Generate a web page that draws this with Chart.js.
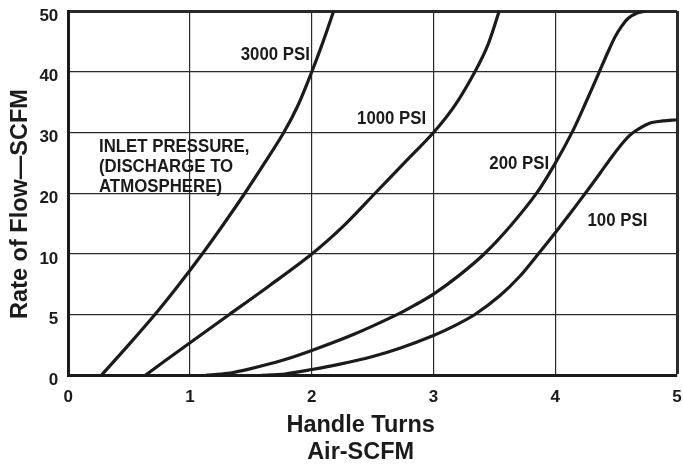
<!DOCTYPE html>
<html>
<head>
<meta charset="utf-8">
<script src="https://cdn.jsdelivr.net/npm/chart.js@4.4.1/dist/chart.umd.min.js"></script>
<style>
html,body{margin:0;padding:0;background:#fff;}
#wrap{position:relative;width:683px;height:465px;}
</style>
</head>
<body>
<div id="wrap"><canvas id="c"></canvas></div>
<script>
// ---- data ----
const yTickValues = [0, 5, 10, 20, 30, 40, 50];
const yTickLabels = ['0', '5', '10', '20', '30', '40', '50'];
const xTickLabels = ['0', '1', '2', '3', '4', '5'];

const turns3000 = [0.27, 0.49, 0.71, 0.905, 1.10, 1.275, 1.45, 1.61, 1.77, 1.885, 2.0, 2.09, 2.18];
const flow3000  = [0,    2.46, 5,    7.43,  10,   14.9,  20,   24.9, 30,   34.4,  40,  44.8, 50];

const turns1000 = [0.63, 1.0, 1.32, 1.66, 2.0, 2.27, 2.52, 2.76, 3.0, 3.18, 3.34, 3.45, 3.54];
const flow1000  = [0,    2.7, 5,    7.45, 10,  14.8, 20,   25,   30,  34.6, 40,   44.6, 50];

const turns200 = [1.12, 1.31, 1.5, 1.746, 2.0, 2.346, 2.7, 2.846, 3.0, 3.208, 3.42, 3.635, 3.85, 3.996, 4.14, 4.25, 4.36, 4.423, 4.49, 4.546, 4.6, 4.678, 4.75];
const flow200  = [0,    0.17, 0.57, 1.21, 2.06, 3.39, 5.01, 5.79, 6.7, 8.22, 10.08, 14.7, 20.1, 24.8, 30.1, 34.9, 39.9, 42.8, 45.7, 47.5, 48.8, 49.7, 50];

const turns100 = [1.57, 1.779, 2.0, 2.231, 2.5, 2.723, 3.0, 3.175, 3.34, 3.544, 3.709, 3.86, 4.0, 4.119, 4.25, 4.365, 4.464, 4.571, 4.64, 4.77, 4.883, 5.0];
const flow100  = [0,    0.12, 0.49, 0.94, 1.57, 2.25, 3.3, 4.11, 5.02, 6.56, 8.17, 10,  13.5, 16.6, 20.07, 23.22, 25.98, 28.68, 30,  31.5, 31.9, 32.1];

const seriesNames = ['3000 PSI', '1000 PSI', '200 PSI', '100 PSI'];
const noteLines = ['INLET PRESSURE,', '(DISCHARGE TO', 'ATMOSPHERE)'];
const xTitleLines = ['Handle Turns', 'Air-SCFM'];
const yTitle = 'Rate of Flow\u2014SCFM';

// label anchors (in data units)
const labelTurns = [1.985, 2.94, 3.95, 4.265];
const labelFlow  = [43.1, 32.6, 25.1, 15.8];
const labelAlign = ['right', 'right', 'right', 'left'];
const noteTurns = 0.252;
const noteFlow = 27.9;

// ---- piecewise y scale (equal spacing between listed ticks) ----
function flowToIndex(v) {
  const t = yTickValues;
  if (v <= t[0]) return (v - t[0]) / (t[1] - t[0]);
  for (let i = 1; i < t.length; i++) {
    if (v <= t[i]) return (i - 1) + (v - t[i - 1]) / (t[i] - t[i - 1]);
  }
  const n = t.length - 1;
  return n + (v - t[n]) / (t[n] - t[n - 1]);
}
function indexToFlow(k) {
  const t = yTickValues;
  const n = t.length - 1;
  const i = Math.max(0, Math.min(n - 1, Math.floor(k)));
  return t[i] + (k - i) * (t[i + 1] - t[i]);
}

class PiecewiseScale extends Chart.LinearScale {
  static id = 'piecewise';
  buildTicks() {
    return yTickValues.map(v => ({ value: v }));
  }
  getPixelForValue(v) {
    return this.getPixelForDecimal(flowToIndex(v) / (yTickValues.length - 1));
  }
  getValueForPixel(p) {
    return indexToFlow(this.getDecimalForPixel(p) * (yTickValues.length - 1));
  }
}
Chart.register(PiecewiseScale);

function pts(xs, ys) { return xs.map((x, i) => ({ x: x, y: ys[i] })); }

const INK = '#1b1b1b';
const NARROW = 0.885;
const FONT_FAMILY = '"Liberation Sans", Arial, Helvetica, sans-serif';

const annot = {
  id: 'annot',
  afterDraw(chart) {
    const { ctx, scales } = chart;
    const xs = scales.x, ys = scales.y;
    ctx.save();
    ctx.fillStyle = INK;
    ctx.textBaseline = 'alphabetic';

    const fs = 19;
    const narrowText = (text, px, capCenterY, align) => {
      ctx.save();
      ctx.font = 'bold ' + fs + 'px ' + FONT_FAMILY;
      const w = ctx.measureText(text).width * NARROW;
      const left = align === 'right' ? px - w : px;
      ctx.translate(left, capCenterY + 0.358 * fs);
      ctx.scale(NARROW, 1);
      ctx.textAlign = 'left';
      ctx.fillText(text, 0, 0);
      ctx.restore();
    };

    seriesNames.forEach((name, i) => {
      narrowText(name, xs.getPixelForValue(labelTurns[i]), ys.getPixelForValue(labelFlow[i]), labelAlign[i]);
    });
    const nx = xs.getPixelForValue(noteTurns);
    const ny = ys.getPixelForValue(noteFlow);
    noteLines.forEach((line, i) => narrowText(line, nx, ny + i * 20, 'left'));

    // axis titles
    const tfs = 23.5;
    ctx.font = 'bold ' + tfs + 'px ' + FONT_FAMILY;
    ctx.textAlign = 'center';
    const cx = (chart.chartArea.left + chart.chartArea.right) / 2 - 12;
    ctx.fillText(xTitleLines[0], cx, 431.7);
    ctx.fillText(xTitleLines[1], cx, 459.3);

    ctx.save();
    ctx.translate(26.5, 204);
    ctx.rotate(-Math.PI / 2);
    ctx.fillText(yTitle, 0, 0);
    ctx.restore();

    ctx.restore();
  }
};

const lineStyle = {
  borderColor: INK,
  borderWidth: 3.2,
  pointRadius: 0,
  pointHoverRadius: 0,
  fill: false,
  tension: 0.3
};

new Chart(document.getElementById('c'), {
  type: 'line',
  data: {
    datasets: [
      Object.assign({ label: seriesNames[0], data: pts(turns3000, flow3000) }, lineStyle),
      Object.assign({ label: seriesNames[1], data: pts(turns1000, flow1000) }, lineStyle),
      Object.assign({ label: seriesNames[2], data: pts(turns200, flow200) }, lineStyle),
      Object.assign({ label: seriesNames[3], data: pts(turns100, flow100) }, lineStyle)
    ]
  },
  options: {
    responsive: true,
    maintainAspectRatio: false,
    animation: false,
    events: [],
    layout: { padding: { top: 11, right: 6, left: 0, bottom: 0 } },
    plugins: { legend: { display: false }, tooltip: { enabled: false }, title: { display: false } },
    scales: {
      x: {
        type: 'linear',
        min: 0, max: 5,
        ticks: {
          stepSize: 1,
          padding: 12,
          color: INK,
          font: { family: FONT_FAMILY, size: 17, weight: 'bold' },
          callback: (v) => xTickLabels[Math.round(v)]
        },
        grid: {
          drawTicks: false,
          color: '#2a2a2a',
          lineWidth: (c) => (c.index === xTickLabels.length - 1 ? 3 : 1.2)
        },
        border: { display: true, color: INK, width: 3 },
        afterFit: (s) => { s.height = 89.5; s.paddingLeft = 0; s.paddingRight = 0; }
      },
      y: {
        type: 'piecewise',
        min: 0, max: 50,
        ticks: {
          padding: 10,
          labelOffset: 5,
          color: INK,
          font: { family: FONT_FAMILY, size: 17, weight: 'bold' },
          callback: (v, i) => yTickLabels[i]
        },
        grid: {
          drawTicks: false,
          color: '#2a2a2a',
          lineWidth: (c) => (c.index === yTickValues.length - 1 ? 3 : 1.2)
        },
        border: { display: true, color: INK, width: 3 },
        afterFit: (s) => { s.width = 68.3; s.paddingTop = 0; s.paddingBottom = 0; }
      }
    }
  },
  plugins: [annot]
});
</script>
</body>
</html>
